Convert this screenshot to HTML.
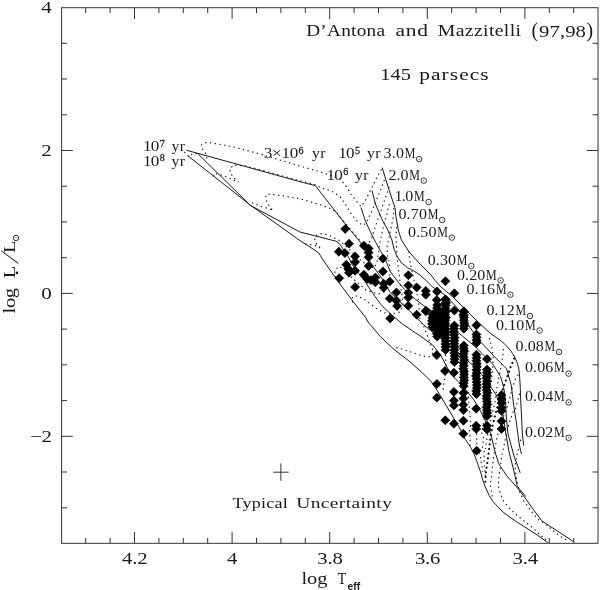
<!DOCTYPE html>
<html><head><meta charset="utf-8"><title>D'Antona and Mazzitelli HR diagram</title>
<style>
html,body{margin:0;padding:0;background:#fff;}
svg{display:block;}
text{font-family:"Liberation Serif",serif;fill:#1a1a1a;}
.s{fill:none;stroke:#1a1a1a;stroke-width:1;stroke-linejoin:round;}
.d{fill:none;stroke:#1a1a1a;stroke-width:1.15;stroke-dasharray:1.4 3.4;}
.b{fill:none;stroke:#000;stroke-width:2.1;stroke-dasharray:0.01 4.7;stroke-linecap:round;}
.ax{fill:none;stroke:#333;stroke-width:1;}
.dm{fill:#000;stroke:#000;stroke-width:0.7;stroke-linejoin:round;}
</style></head><body>
<svg width="600" height="590" viewBox="0 0 600 590">
<rect width="600" height="590" fill="#fff"/>

<rect class="ax" x="61.6" y="7.7" width="536.4" height="535.6"/>
<path class="ax" d="M85.7 543.3v-5.4M85.7 7.7v5.4M110.1 543.3v-5.4M110.1 7.7v5.4M134.5 543.3v-11.2M134.5 7.7v11.2M158.9 543.3v-5.4M158.9 7.7v5.4M183.3 543.3v-5.4M183.3 7.7v5.4M207.7 543.3v-5.4M207.7 7.7v5.4M232.1 543.3v-11.2M232.1 7.7v11.2M256.5 543.3v-5.4M256.5 7.7v5.4M280.9 543.3v-5.4M280.9 7.7v5.4M305.3 543.3v-5.4M305.3 7.7v5.4M329.7 543.3v-11.2M329.7 7.7v11.2M354.1 543.3v-5.4M354.1 7.7v5.4M378.5 543.3v-5.4M378.5 7.7v5.4M402.9 543.3v-5.4M402.9 7.7v5.4M427.3 543.3v-11.2M427.3 7.7v11.2M451.7 543.3v-5.4M451.7 7.7v5.4M476.1 543.3v-5.4M476.1 7.7v5.4M500.5 543.3v-5.4M500.5 7.7v5.4M524.9 543.3v-11.2M524.9 7.7v11.2M549.3 543.3v-5.4M549.3 7.7v5.4M573.7 543.3v-5.4M573.7 7.7v5.4M61.6 43.3h5.4M598.0 43.3h-5.4M61.6 79.0h5.4M598.0 79.0h-5.4M61.6 114.8h5.4M598.0 114.8h-5.4M61.6 150.5h11.2M598.0 150.5h-11.2M61.6 186.2h5.4M598.0 186.2h-5.4M61.6 221.9h5.4M598.0 221.9h-5.4M61.6 257.7h5.4M598.0 257.7h-5.4M61.6 293.4h11.2M598.0 293.4h-11.2M61.6 329.1h5.4M598.0 329.1h-5.4M61.6 364.8h5.4M598.0 364.8h-5.4M61.6 400.6h5.4M598.0 400.6h-5.4M61.6 436.3h11.2M598.0 436.3h-11.2M61.6 472.0h5.4M598.0 472.0h-5.4M61.6 507.8h5.4M598.0 507.8h-5.4"/>
<text transform="translate(122.1,564.2) scale(1.200,1)" font-size="17.3" text-anchor="start" textLength="21.33" lengthAdjust="spacing">4.2</text>
<text transform="translate(232.1,564.2) scale(1.200,1)" font-size="17.3" text-anchor="middle">4</text>
<text transform="translate(317.3,564.2) scale(1.200,1)" font-size="17.3" text-anchor="start" textLength="21.33" lengthAdjust="spacing">3.8</text>
<text transform="translate(414.9,564.2) scale(1.200,1)" font-size="17.3" text-anchor="start" textLength="21.33" lengthAdjust="spacing">3.6</text>
<text transform="translate(512.5,564.2) scale(1.200,1)" font-size="17.3" text-anchor="start" textLength="21.33" lengthAdjust="spacing">3.4</text>
<text transform="translate(51.8,13.2) scale(1.200,1)" font-size="17.5" text-anchor="end">4</text>
<text transform="translate(51.8,156.1) scale(1.200,1)" font-size="17.5" text-anchor="end">2</text>
<text transform="translate(51.8,299.0) scale(1.200,1)" font-size="17.5" text-anchor="end">0</text>
<text transform="translate(30.3,441.9) scale(1.200,1)" font-size="17.5" text-anchor="start" textLength="18.00" lengthAdjust="spacing">−2</text>
<text transform="translate(301.5,584.4) scale(1.200,1)" font-size="17.0" text-anchor="start" textLength="21.67" lengthAdjust="spacing">log</text>
<text transform="translate(337.6,584.4) scale(0.850,1)" font-size="17.0" text-anchor="start">T</text>
<text x="347.5" y="589.6" style="font-family:'Liberation Sans',sans-serif;font-weight:bold;font-size:10.3px">eff</text>
<g transform="translate(14.6,313.5) rotate(-90)"><text transform="translate(0.0,0.0) scale(1.200,1)" font-size="17.0" text-anchor="start" textLength="21.25" lengthAdjust="spacing">log</text><text transform="translate(35.3,0.0) scale(1.200,1)" font-size="17.0" text-anchor="start">L</text><circle cx="40.6" cy="2.3" r="1.3" fill="#1a1a1a"/><text transform="translate(49.4,3.4) skewX(-22)" font-size="25.5">/</text><text transform="translate(60.6,0.0) scale(1.200,1)" font-size="17.0" text-anchor="start">L</text><circle class="ax" cx="75.5" cy="1.4" r="2.7"/><circle cx="75.5" cy="1.4" r="0.6" fill="#1a1a1a"/></g>
<text transform="translate(306.2,36.3) scale(1.170,1)" font-size="16.5" text-anchor="start" textLength="67.35" lengthAdjust="spacing">D’Antona</text>
<text transform="translate(395.5,36.3) scale(1.300,1)" font-size="16.5" text-anchor="start" textLength="25.00" lengthAdjust="spacing">and</text>
<text transform="translate(437.8,36.3) scale(1.200,1)" font-size="16.5" text-anchor="start" textLength="69.33" lengthAdjust="spacing">Mazzitelli</text>
<text transform="translate(531.6,36.9) scale(0.950,1)" font-size="21.0" text-anchor="start">(</text>
<text transform="translate(539.0,36.5) scale(1.200,1)" font-size="17.3" text-anchor="start" textLength="39.17" lengthAdjust="spacing">97,98</text>
<text transform="translate(586.6,36.9) scale(0.950,1)" font-size="21.0" text-anchor="start">)</text>
<text transform="translate(380.3,79.7) scale(1.180,1)" font-size="17.3" text-anchor="start" textLength="25.93" lengthAdjust="spacing">145</text>
<text transform="translate(419.2,79.5) scale(1.300,1)" font-size="16.5" text-anchor="start" textLength="53.46" lengthAdjust="spacing">parsecs</text>
<text transform="translate(232.6,507.6) scale(1.170,1)" font-size="15.5" text-anchor="start" textLength="47.26" lengthAdjust="spacing">Typical</text>
<text transform="translate(296.3,507.6) scale(1.260,1)" font-size="15.5" text-anchor="start" textLength="75.87" lengthAdjust="spacing">Uncertainty</text>
<path class="ax" d="M273.2 472.2h15.4M280.9 463.4v17.4"/>
<text transform="translate(142.9,151.0) scale(1.200,1)" font-size="14.3" text-anchor="start" textLength="13.75" lengthAdjust="spacing">10</text><text transform="translate(159.7,146.8) scale(1.050,1)" font-size="9.6" text-anchor="start" stroke="#1a1a1a" stroke-width="0.25">7</text><text transform="translate(171.4,151.0) scale(1.100,1)" font-size="14.3" text-anchor="start" textLength="12.27" lengthAdjust="spacing">yr</text>
<text transform="translate(142.9,165.5) scale(1.200,1)" font-size="14.3" text-anchor="start" textLength="13.75" lengthAdjust="spacing">10</text><text transform="translate(159.7,161.3) scale(1.050,1)" font-size="9.6" text-anchor="start" stroke="#1a1a1a" stroke-width="0.25">8</text><text transform="translate(171.4,165.5) scale(1.100,1)" font-size="14.3" text-anchor="start" textLength="12.27" lengthAdjust="spacing">yr</text>
<text transform="translate(263.8,158.2) scale(1.200,1)" font-size="14.3" text-anchor="start" textLength="28.75" lengthAdjust="spacing">3×10</text><text transform="translate(298.6,154.0) scale(1.050,1)" font-size="9.6" text-anchor="start" stroke="#1a1a1a" stroke-width="0.25">6</text><text transform="translate(312.1,158.2) scale(1.100,1)" font-size="14.3" text-anchor="start" textLength="12.27" lengthAdjust="spacing">yr</text>
<text transform="translate(338.2,158.2) scale(1.200,1)" font-size="14.3" text-anchor="start" textLength="13.75" lengthAdjust="spacing">10</text><text transform="translate(355.0,154.0) scale(1.050,1)" font-size="9.6" text-anchor="start" stroke="#1a1a1a" stroke-width="0.25">5</text><text transform="translate(366.9,158.2) scale(1.100,1)" font-size="14.3" text-anchor="start" textLength="12.27" lengthAdjust="spacing">yr</text>
<text transform="translate(326.4,179.6) scale(1.200,1)" font-size="14.3" text-anchor="start" textLength="13.75" lengthAdjust="spacing">10</text><text transform="translate(343.2,175.4) scale(1.050,1)" font-size="9.6" text-anchor="start" stroke="#1a1a1a" stroke-width="0.25">6</text><text transform="translate(355.1,179.6) scale(1.100,1)" font-size="14.3" text-anchor="start" textLength="12.27" lengthAdjust="spacing">yr</text>
<text transform="translate(383.6,157.8) scale(1.120,1)" font-size="14.3" text-anchor="start" textLength="18.12" lengthAdjust="spacing">3.0</text><text transform="translate(404.7,157.8) scale(0.840,1)" font-size="14.3" text-anchor="start">M</text><circle class="ax" cx="419.2" cy="159.1" r="2.75"/><circle cx="419.2" cy="159.1" r="0.6" fill="#1a1a1a"/>
<text transform="translate(388.4,179.7) scale(1.120,1)" font-size="14.3" text-anchor="start" textLength="17.95" lengthAdjust="spacing">2.0</text><text transform="translate(409.3,179.7) scale(0.840,1)" font-size="14.3" text-anchor="start">M</text><circle class="ax" cx="423.8" cy="180.6" r="2.75"/><circle cx="423.8" cy="180.6" r="0.6" fill="#1a1a1a"/>
<text transform="translate(394.4,201.1) scale(1.120,1)" font-size="14.3" text-anchor="start" textLength="16.88" lengthAdjust="spacing">1.0</text><text transform="translate(414.1,201.1) scale(0.840,1)" font-size="14.3" text-anchor="start">M</text><circle class="ax" cx="428.6" cy="202.0" r="2.75"/><circle cx="428.6" cy="202.0" r="0.6" fill="#1a1a1a"/>
<text transform="translate(398.4,219.1) scale(1.120,1)" font-size="14.3" text-anchor="start" textLength="25.45" lengthAdjust="spacing">0.70</text><text transform="translate(427.7,219.1) scale(0.840,1)" font-size="14.3" text-anchor="start">M</text><circle class="ax" cx="442.2" cy="220.0" r="2.75"/><circle cx="442.2" cy="220.0" r="0.6" fill="#1a1a1a"/>
<text transform="translate(408.0,236.9) scale(1.120,1)" font-size="14.3" text-anchor="start" textLength="25.45" lengthAdjust="spacing">0.50</text><text transform="translate(437.3,236.9) scale(0.840,1)" font-size="14.3" text-anchor="start">M</text><circle class="ax" cx="451.8" cy="237.6" r="2.75"/><circle cx="451.8" cy="237.6" r="0.6" fill="#1a1a1a"/>
<text transform="translate(427.8,265.3) scale(1.120,1)" font-size="14.3" text-anchor="start" textLength="25.18" lengthAdjust="spacing">0.30</text><text transform="translate(456.8,265.3) scale(0.840,1)" font-size="14.3" text-anchor="start">M</text><circle class="ax" cx="471.3" cy="266.0" r="2.75"/><circle cx="471.3" cy="266.0" r="0.6" fill="#1a1a1a"/>
<text transform="translate(457.0,279.5) scale(1.120,1)" font-size="14.3" text-anchor="start" textLength="25.27" lengthAdjust="spacing">0.20</text><text transform="translate(486.1,279.5) scale(0.840,1)" font-size="14.3" text-anchor="start">M</text><circle class="ax" cx="500.6" cy="280.4" r="2.75"/><circle cx="500.6" cy="280.4" r="0.6" fill="#1a1a1a"/>
<text transform="translate(466.6,293.8) scale(1.120,1)" font-size="14.3" text-anchor="start" textLength="25.45" lengthAdjust="spacing">0.16</text><text transform="translate(495.9,293.8) scale(0.840,1)" font-size="14.3" text-anchor="start">M</text><circle class="ax" cx="510.4" cy="294.7" r="2.75"/><circle cx="510.4" cy="294.7" r="0.6" fill="#1a1a1a"/>
<text transform="translate(486.4,315.1) scale(1.120,1)" font-size="14.3" text-anchor="start" textLength="25.27" lengthAdjust="spacing">0.12</text><text transform="translate(515.5,315.1) scale(0.840,1)" font-size="14.3" text-anchor="start">M</text><circle class="ax" cx="530.0" cy="316.0" r="2.75"/><circle cx="530.0" cy="316.0" r="0.6" fill="#1a1a1a"/>
<text transform="translate(496.0,329.6) scale(1.120,1)" font-size="14.3" text-anchor="start" textLength="25.27" lengthAdjust="spacing">0.10</text><text transform="translate(525.1,329.6) scale(0.840,1)" font-size="14.3" text-anchor="start">M</text><circle class="ax" cx="539.6" cy="330.5" r="2.75"/><circle cx="539.6" cy="330.5" r="0.6" fill="#1a1a1a"/>
<text transform="translate(515.6,350.8) scale(1.120,1)" font-size="14.3" text-anchor="start" textLength="25.09" lengthAdjust="spacing">0.08</text><text transform="translate(544.5,350.8) scale(0.840,1)" font-size="14.3" text-anchor="start">M</text><circle class="ax" cx="559.0" cy="352.0" r="2.75"/><circle cx="559.0" cy="352.0" r="0.6" fill="#1a1a1a"/>
<text transform="translate(525.0,371.8) scale(1.120,1)" font-size="14.3" text-anchor="start" textLength="25.27" lengthAdjust="spacing">0.06</text><text transform="translate(554.1,371.8) scale(0.840,1)" font-size="14.3" text-anchor="start">M</text><circle class="ax" cx="568.6" cy="373.6" r="2.75"/><circle cx="568.6" cy="373.6" r="0.6" fill="#1a1a1a"/>
<text transform="translate(525.0,400.5) scale(1.120,1)" font-size="14.3" text-anchor="start" textLength="25.27" lengthAdjust="spacing">0.04</text><text transform="translate(554.1,400.5) scale(0.840,1)" font-size="14.3" text-anchor="start">M</text><circle class="ax" cx="568.6" cy="402.4" r="2.75"/><circle cx="568.6" cy="402.4" r="0.6" fill="#1a1a1a"/>
<text transform="translate(525.0,436.6) scale(1.120,1)" font-size="14.3" text-anchor="start" textLength="25.27" lengthAdjust="spacing">0.02</text><text transform="translate(554.1,436.6) scale(0.840,1)" font-size="14.3" text-anchor="start">M</text><circle class="ax" cx="568.6" cy="437.8" r="2.75"/><circle cx="568.6" cy="437.8" r="0.6" fill="#1a1a1a"/>
<polyline class="d" points="381.4,169.3 377.1,177.0 372.9,185.4 369.5,192.2 365.3,200.7 361.0,206.6 356.0,200.7 350.8,194.0 346.6,187.0 340.7,179.5 330.0,175.0 317.0,171.0 300.0,166.0 258.0,153.5 244.0,149.7 234.5,147.2 225.0,145.2 215.3,143.6 210.8,142.9 205.7,142.6 201.6,144.7 202.1,148.7 205.2,152.8 206.7,157.9 210.3,159.9"/>
<polyline class="d" points="184.5,152.2 189.0,157.0 192.0,154.0 200.0,153.0"/>
<polyline class="d" points="384.4,180.0 383.0,184.0 379.7,192.2 376.3,200.3 373.6,207.1 370.2,214.6 366.8,221.4 363.4,225.4 360.7,224.0 355.9,220.0 351.2,213.9 347.1,207.1 343.7,201.7 339.7,196.3 333.6,192.2 326.8,189.5 320.0,187.5 315.3,184.7 300.0,180.6 280.0,175.2 258.0,169.2 245.0,165.8 234.0,165.0 229.5,169.0 231.0,174.0 235.0,179.0 238.5,182.0"/>
<polyline class="d" points="213.5,176.5 214.3,173.4 218.9,174.5 224.0,175.7 228.0,177.5 232.6,179.7 236.7,181.8"/>
<polyline class="d" points="389.2,186.8 386.4,195.0 383.0,204.4 379.7,214.0 377.0,222.0 374.2,230.2 371.5,238.3 368.0,244.0 364.0,245.0 358.5,239.0 342.0,219.0 336.0,212.0 331.5,209.0 321.0,205.0 301.0,199.0 284.0,196.0 270.0,194.0 266.0,195.0 265.5,199.0 268.0,204.0 271.5,209.0 275.0,211.5"/>
<polyline class="d" points="252.0,202.7 260.0,206.0 268.0,208.5 272.0,210.0"/>
<polyline class="d" points="389.2,204.0 387.1,213.6 384.4,223.0 382.4,231.2 380.3,240.7 379.0,248.8 377.0,262.0 374.0,268.0 368.0,266.0 358.0,258.0 348.0,248.0 340.0,241.0 332.0,236.5 326.0,234.5 321.0,233.8 317.0,235.0 314.5,238.5 315.5,242.5 318.0,246.0 321.5,249.5"/>
<polyline class="d" points="305.3,244.0 311.0,244.7 316.0,245.5 320.0,247.0"/>
<polyline class="d" points="393.9,208.0 393.2,217.6 391.2,227.0 389.2,236.6 387.1,246.0 387.1,254.0 389.2,262.4 390.0,272.0 389.0,284.0 385.0,292.0 378.0,294.0 366.0,290.0 359.2,284.0 351.5,277.3 345.0,270.0 338.8,266.3 335.4,269.7 334.6,274.0 337.0,279.0"/>
<polyline class="d" points="396.6,227.0 395.9,238.0 396.6,248.8 397.3,259.7 398.6,270.5 400.0,282.0 402.0,295.0 403.0,305.0 400.0,312.0 392.0,314.0 384.6,312.9 377.8,309.5 371.0,304.4 364.2,299.3 357.5,296.0 353.2,296.0 351.5,299.3 353.0,303.0"/>
<polyline class="d" points="408.8,251.5 409.5,258.3 410.8,265.0 414.0,280.0 418.3,300.0 420.0,320.3 424.0,327.0 427.6,336.4 433.6,352.5 429.3,356.8 422.5,356.0 412.4,352.5 402.2,349.2 393.7,346.6"/>
<polyline class="d" points="445.0,350.0 446.0,365.0 444.6,379.7 443.7,384.7 443.0,390.0"/>
<polyline class="d" points="489.2,338.0 491.9,347.6 493.2,357.0 492.5,370.7 491.0,385.0 488.0,400.0 485.0,415.0 482.5,428.0 481.7,435.0 483.5,437.8 483.0,442.9 482.5,447.5 484.5,452.5 484.0,457.6 484.5,467.3 485.5,477.0"/>
<polyline class="d" points="503.4,349.0 502.7,357.0 500.7,368.0 498.6,378.8 496.6,389.7 495.3,400.5 492.0,415.0 489.0,428.0 487.0,438.8 486.0,443.9 485.5,449.0"/>
<polyline class="d" points="518.3,374.7 515.0,380.0 512.2,388.3 510.2,396.4 507.5,406.0 503.0,418.0 499.0,430.0 497.2,436.8 496.2,441.9 495.2,447.0 493.6,457.1 493.1,461.7 492.6,466.3 492.1,470.9 491.6,475.4 490.2,485.0 491.8,493.3 492.7,500.0"/>
<polyline class="d" points="519.7,393.7 517.6,400.5 515.6,408.6 513.4,411.2 510.0,420.7 508.0,427.5 505.3,439.3 504.3,444.4 503.3,449.5 502.3,454.0 501.3,458.6 500.8,463.2 500.3,467.8 499.3,473.3 498.5,480.0 498.5,486.7 500.2,493.3 503.5,500.8 509.3,508.3 517.7,515.8 526.0,522.5 534.3,529.2 540.2,535.0 546.0,540.0"/>
<polyline class="d" points="520.8,439.7 518.8,447.8 516.8,456.0 515.5,462.0 515.2,468.0 516.0,476.0 517.5,484.0 519.0,490.0 521.0,495.0 524.3,501.7 529.3,508.3 533.5,514.2 539.0,520.0 547.7,525.8 554.3,531.7 561.0,536.7 567.7,540.8"/>
<polyline class="d" points="468.0,392.0 469.0,405.0 470.2,417.5 470.8,424.0 469.5,431.0 470.2,437.8 470.0,446.0"/>
<polyline class="d" points="477.0,424.0 476.3,431.0 476.9,436.8 476.4,441.9 478.0,449.0 480.4,456.1 480.9,461.2 482.0,466.3 482.5,471.9"/>
<polyline class="b" points="514.2,358.5 510.8,366.6 507.5,376.0 504.0,385.6 500.0,398.0 496.0,412.0 492.5,426.0 491.0,434.0 489.5,445.8 487.8,459.3 486.0,471.0 485.3,483.0"/>
<polyline class="s" points="186.4,150.2 258.0,170.0 300.0,181.7 315.3,185.6 342.1,220.0 350.3,230.2 360.4,242.4 365.0,251.0 369.0,260.0 375.0,269.0 381.1,277.2 387.2,287.4 390.3,292.5 395.3,297.5 409.6,310.8 417.7,318.9 423.8,325.0 440.0,338.0 455.0,350.0 468.0,361.0 478.0,370.0 486.8,381.0 496.0,394.7 502.0,410.0 505.4,430.5 508.8,450.8 513.9,471.0 517.3,486.4 525.8,496.6"/>
<polyline class="s" points="187.6,155.6 251.5,206.0 300.0,240.6 310.0,247.0 318.6,252.8 324.4,262.0 338.8,282.4 354.0,302.7 366.0,318.0 368.0,322.0 380.2,336.4 393.7,349.2 409.0,361.0 422.5,372.9 431.0,381.4 437.8,391.5 442.9,400.0 459.0,427.0 465.2,439.3 470.8,447.5 474.3,454.6 476.5,460.5 478.4,465.8 481.0,473.3 482.7,480.0 485.2,486.7 489.3,495.8 493.0,501.5 497.7,506.7 503.0,512.0 509.3,516.7 516.5,521.7 524.3,526.7 536.0,534.2 547.7,542.5"/>
<polyline class="s" points="198.0,153.8 250.5,205.5 300.0,232.0 314.4,235.7 335.9,241.2 339.3,243.5 342.1,247.5 348.2,256.6 352.3,264.7 355.3,268.8 364.2,280.5 375.0,296.5 381.1,304.7 388.2,311.8 395.3,317.9 402.5,324.0 420.8,336.4 432.7,345.0 441.2,356.0 446.3,366.0 451.4,374.6 458.0,381.4 466.0,390.0 474.0,400.0 481.0,412.0 486.0,422.0 490.6,433.2 494.2,448.5 496.0,455.0 498.7,463.7 500.5,466.5 506.8,475.8 517.7,488.3 526.0,499.2 534.3,510.8 541.8,520.8 549.3,525.8 561.0,533.3 573.5,541.7"/>
<polyline class="s" points="361.0,207.5 365.0,220.0 369.6,230.2 375.7,242.4 380.8,251.5 385.9,260.7 389.9,270.9 392.3,274.2 398.4,282.3 404.5,289.4 415.7,299.6 423.8,305.7 430.0,309.7 447.0,323.0 463.2,336.7 474.4,345.9 483.6,355.0 492.9,364.2 500.5,376.4 503.6,387.0 505.5,400.0 506.3,417.0 508.0,434.0 514.0,456.0 520.2,472.9"/>
<polyline class="s" points="372.0,190.5 375.4,204.0 382.3,220.0 387.9,230.2 392.0,240.3 394.1,249.3 397.1,256.4 401.2,262.5 407.3,267.6 413.4,270.7 419.5,274.7 425.6,280.0 432.7,287.0 436.0,289.3 444.7,294.7 458.3,309.0 470.3,328.0 481.5,342.8 494.4,356.6 506.6,368.8 511.2,385.0 513.7,405.3 516.8,425.7 519.3,445.0 521.5,454.0"/>
<polyline class="s" points="382.2,167.6 388.1,187.1 394.9,207.5 395.9,216.3 398.6,231.2 401.4,240.0 408.8,251.5 420.5,264.6 430.7,274.7 435.0,280.3 440.8,286.8 454.0,298.0 470.3,314.3 479.2,323.0 490.7,333.6 500.5,340.5 505.5,344.8 509.5,349.3 512.7,353.6 515.3,358.2 517.3,363.2 518.8,368.8 519.7,377.0 520.3,388.6 520.7,400.0 522.4,434.0 523.7,445.8"/>
<path class="dm" d="M345.2 224.4l4.5 4.5l-4.5 4.5l-4.5 -4.5zM349.0 239.2l4.5 4.5l-4.5 4.5l-4.5 -4.5zM338.8 247.2l4.5 4.5l-4.5 4.5l-4.5 -4.5zM344.9 248.6l4.5 4.5l-4.5 4.5l-4.5 -4.5zM355.1 251.9l4.5 4.5l-4.5 4.5l-4.5 -4.5zM355.1 257.4l4.5 4.5l-4.5 4.5l-4.5 -4.5zM346.3 260.2l4.5 4.5l-4.5 4.5l-4.5 -4.5zM348.3 264.2l4.5 4.5l-4.5 4.5l-4.5 -4.5zM355.1 266.2l4.5 4.5l-4.5 4.5l-4.5 -4.5zM349.0 268.2l4.5 4.5l-4.5 4.5l-4.5 -4.5zM339.2 273.7l4.5 4.5l-4.5 4.5l-4.5 -4.5zM355.1 282.6l4.5 4.5l-4.5 4.5l-4.5 -4.5zM363.9 241.2l4.5 4.5l-4.5 4.5l-4.5 -4.5zM368.6 243.9l4.5 4.5l-4.5 4.5l-4.5 -4.5zM368.6 248.0l4.5 4.5l-4.5 4.5l-4.5 -4.5zM368.6 252.7l4.5 4.5l-4.5 4.5l-4.5 -4.5zM368.6 261.4l4.5 4.5l-4.5 4.5l-4.5 -4.5zM363.9 270.2l4.5 4.5l-4.5 4.5l-4.5 -4.5zM367.3 274.4l4.5 4.5l-4.5 4.5l-4.5 -4.5zM375.4 273.1l4.5 4.5l-4.5 4.5l-4.5 -4.5zM375.4 277.8l4.5 4.5l-4.5 4.5l-4.5 -4.5zM371.0 275.6l4.5 4.5l-4.5 4.5l-4.5 -4.5zM382.9 254.1l4.5 4.5l-4.5 4.5l-4.5 -4.5zM382.9 266.9l4.5 4.5l-4.5 4.5l-4.5 -4.5zM383.6 279.2l4.5 4.5l-4.5 4.5l-4.5 -4.5zM383.6 283.2l4.5 4.5l-4.5 4.5l-4.5 -4.5zM389.7 277.1l4.5 4.5l-4.5 4.5l-4.5 -4.5zM396.4 287.9l4.5 4.5l-4.5 4.5l-4.5 -4.5zM389.7 294.1l4.5 4.5l-4.5 4.5l-4.5 -4.5zM396.4 296.1l4.5 4.5l-4.5 4.5l-4.5 -4.5zM397.1 301.4l4.5 4.5l-4.5 4.5l-4.5 -4.5zM408.3 270.7l4.5 4.5l-4.5 4.5l-4.5 -4.5zM408.3 280.9l4.5 4.5l-4.5 4.5l-4.5 -4.5zM408.3 288.2l4.5 4.5l-4.5 4.5l-4.5 -4.5zM408.3 293.1l4.5 4.5l-4.5 4.5l-4.5 -4.5zM408.3 301.2l4.5 4.5l-4.5 4.5l-4.5 -4.5zM416.7 282.9l4.5 4.5l-4.5 4.5l-4.5 -4.5zM416.7 310.2l4.5 4.5l-4.5 4.5l-4.5 -4.5zM425.8 286.4l4.5 4.5l-4.5 4.5l-4.5 -4.5zM425.8 290.2l4.5 4.5l-4.5 4.5l-4.5 -4.5zM425.8 306.4l4.5 4.5l-4.5 4.5l-4.5 -4.5zM426.0 306.6l4.5 4.5l-4.5 4.5l-4.5 -4.5zM437.0 286.9l4.5 4.5l-4.5 4.5l-4.5 -4.5zM436.8 295.6l4.5 4.5l-4.5 4.5l-4.5 -4.5zM445.4 276.7l4.5 4.5l-4.5 4.5l-4.5 -4.5zM445.4 294.8l4.5 4.5l-4.5 4.5l-4.5 -4.5zM445.4 298.9l4.5 4.5l-4.5 4.5l-4.5 -4.5zM454.4 288.8l4.5 4.5l-4.5 4.5l-4.5 -4.5zM454.4 306.1l4.5 4.5l-4.5 4.5l-4.5 -4.5zM463.8 306.8l4.5 4.5l-4.5 4.5l-4.5 -4.5zM463.8 311.2l4.5 4.5l-4.5 4.5l-4.5 -4.5zM476.4 320.8l4.5 4.5l-4.5 4.5l-4.5 -4.5zM390.2 313.9l4.5 4.5l-4.5 4.5l-4.5 -4.5zM436.8 350.6l4.5 4.5l-4.5 4.5l-4.5 -4.5zM445.0 366.4l4.5 4.5l-4.5 4.5l-4.5 -4.5zM453.9 368.2l4.5 4.5l-4.5 4.5l-4.5 -4.5zM436.9 379.4l4.5 4.5l-4.5 4.5l-4.5 -4.5zM436.9 393.2l4.5 4.5l-4.5 4.5l-4.5 -4.5zM453.9 387.4l4.5 4.5l-4.5 4.5l-4.5 -4.5zM453.9 396.1l4.5 4.5l-4.5 4.5l-4.5 -4.5zM453.9 400.9l4.5 4.5l-4.5 4.5l-4.5 -4.5zM463.4 388.6l4.5 4.5l-4.5 4.5l-4.5 -4.5zM463.4 394.1l4.5 4.5l-4.5 4.5l-4.5 -4.5zM463.4 400.2l4.5 4.5l-4.5 4.5l-4.5 -4.5zM463.4 405.6l4.5 4.5l-4.5 4.5l-4.5 -4.5zM463.4 416.2l4.5 4.5l-4.5 4.5l-4.5 -4.5zM445.3 415.8l4.5 4.5l-4.5 4.5l-4.5 -4.5zM453.9 419.2l4.5 4.5l-4.5 4.5l-4.5 -4.5zM463.3 429.2l4.5 4.5l-4.5 4.5l-4.5 -4.5zM476.2 404.2l4.5 4.5l-4.5 4.5l-4.5 -4.5zM476.2 421.2l4.5 4.5l-4.5 4.5l-4.5 -4.5zM476.2 424.4l4.5 4.5l-4.5 4.5l-4.5 -4.5zM476.6 446.2l4.5 4.5l-4.5 4.5l-4.5 -4.5zM487.0 421.2l4.5 4.5l-4.5 4.5l-4.5 -4.5zM487.0 424.9l4.5 4.5l-4.5 4.5l-4.5 -4.5zM501.5 390.4l4.5 4.5l-4.5 4.5l-4.5 -4.5zM501.5 394.6l4.5 4.5l-4.5 4.5l-4.5 -4.5zM501.5 398.6l4.5 4.5l-4.5 4.5l-4.5 -4.5zM501.5 403.1l4.5 4.5l-4.5 4.5l-4.5 -4.5zM501.5 406.4l4.5 4.5l-4.5 4.5l-4.5 -4.5zM501.5 416.7l4.5 4.5l-4.5 4.5l-4.5 -4.5zM501.5 424.4l4.5 4.5l-4.5 4.5l-4.5 -4.5zM487.0 354.6l4.5 4.5l-4.5 4.5l-4.5 -4.5zM437.2 300.6l4.5 4.5l-4.5 4.5l-4.5 -4.5zM437.0 303.7l4.5 4.5l-4.5 4.5l-4.5 -4.5zM436.8 306.9l4.5 4.5l-4.5 4.5l-4.5 -4.5zM437.4 310.0l4.5 4.5l-4.5 4.5l-4.5 -4.5zM436.7 313.2l4.5 4.5l-4.5 4.5l-4.5 -4.5zM437.2 316.3l4.5 4.5l-4.5 4.5l-4.5 -4.5zM437.1 319.4l4.5 4.5l-4.5 4.5l-4.5 -4.5zM436.7 322.6l4.5 4.5l-4.5 4.5l-4.5 -4.5zM437.2 325.8l4.5 4.5l-4.5 4.5l-4.5 -4.5zM436.7 328.9l4.5 4.5l-4.5 4.5l-4.5 -4.5zM437.2 332.1l4.5 4.5l-4.5 4.5l-4.5 -4.5zM432.5 310.1l4.5 4.5l-4.5 4.5l-4.5 -4.5zM432.4 313.2l4.5 4.5l-4.5 4.5l-4.5 -4.5zM432.0 316.3l4.5 4.5l-4.5 4.5l-4.5 -4.5zM432.0 319.4l4.5 4.5l-4.5 4.5l-4.5 -4.5zM432.5 322.6l4.5 4.5l-4.5 4.5l-4.5 -4.5zM441.0 308.6l4.5 4.5l-4.5 4.5l-4.5 -4.5zM440.9 311.7l4.5 4.5l-4.5 4.5l-4.5 -4.5zM441.4 314.9l4.5 4.5l-4.5 4.5l-4.5 -4.5zM440.6 318.1l4.5 4.5l-4.5 4.5l-4.5 -4.5zM440.7 321.2l4.5 4.5l-4.5 4.5l-4.5 -4.5zM441.1 324.4l4.5 4.5l-4.5 4.5l-4.5 -4.5zM441.0 327.6l4.5 4.5l-4.5 4.5l-4.5 -4.5zM445.5 295.2l4.5 4.5l-4.5 4.5l-4.5 -4.5zM446.0 298.2l4.5 4.5l-4.5 4.5l-4.5 -4.5zM445.6 301.1l4.5 4.5l-4.5 4.5l-4.5 -4.5zM445.4 304.1l4.5 4.5l-4.5 4.5l-4.5 -4.5zM446.0 307.0l4.5 4.5l-4.5 4.5l-4.5 -4.5zM445.0 310.0l4.5 4.5l-4.5 4.5l-4.5 -4.5zM445.9 312.9l4.5 4.5l-4.5 4.5l-4.5 -4.5zM445.3 315.9l4.5 4.5l-4.5 4.5l-4.5 -4.5zM445.1 318.8l4.5 4.5l-4.5 4.5l-4.5 -4.5zM445.1 321.8l4.5 4.5l-4.5 4.5l-4.5 -4.5zM445.3 324.7l4.5 4.5l-4.5 4.5l-4.5 -4.5zM445.8 327.7l4.5 4.5l-4.5 4.5l-4.5 -4.5zM445.1 330.6l4.5 4.5l-4.5 4.5l-4.5 -4.5zM445.6 333.6l4.5 4.5l-4.5 4.5l-4.5 -4.5zM445.7 336.5l4.5 4.5l-4.5 4.5l-4.5 -4.5zM445.4 339.5l4.5 4.5l-4.5 4.5l-4.5 -4.5zM445.6 342.4l4.5 4.5l-4.5 4.5l-4.5 -4.5zM445.5 345.4l4.5 4.5l-4.5 4.5l-4.5 -4.5zM454.4 321.1l4.5 4.5l-4.5 4.5l-4.5 -4.5zM453.9 324.1l4.5 4.5l-4.5 4.5l-4.5 -4.5zM453.9 327.1l4.5 4.5l-4.5 4.5l-4.5 -4.5zM454.1 330.2l4.5 4.5l-4.5 4.5l-4.5 -4.5zM454.6 333.2l4.5 4.5l-4.5 4.5l-4.5 -4.5zM454.3 336.3l4.5 4.5l-4.5 4.5l-4.5 -4.5zM454.2 339.3l4.5 4.5l-4.5 4.5l-4.5 -4.5zM454.5 342.3l4.5 4.5l-4.5 4.5l-4.5 -4.5zM454.3 345.4l4.5 4.5l-4.5 4.5l-4.5 -4.5zM454.2 348.4l4.5 4.5l-4.5 4.5l-4.5 -4.5zM454.7 351.5l4.5 4.5l-4.5 4.5l-4.5 -4.5zM454.6 354.5l4.5 4.5l-4.5 4.5l-4.5 -4.5zM454.4 357.6l4.5 4.5l-4.5 4.5l-4.5 -4.5zM463.8 307.2l4.5 4.5l-4.5 4.5l-4.5 -4.5zM463.5 310.1l4.5 4.5l-4.5 4.5l-4.5 -4.5zM463.9 312.9l4.5 4.5l-4.5 4.5l-4.5 -4.5zM463.8 315.8l4.5 4.5l-4.5 4.5l-4.5 -4.5zM464.2 318.6l4.5 4.5l-4.5 4.5l-4.5 -4.5zM464.1 321.4l4.5 4.5l-4.5 4.5l-4.5 -4.5zM463.8 324.2l4.5 4.5l-4.5 4.5l-4.5 -4.5zM463.8 341.1l4.5 4.5l-4.5 4.5l-4.5 -4.5zM463.6 343.9l4.5 4.5l-4.5 4.5l-4.5 -4.5zM464.3 346.8l4.5 4.5l-4.5 4.5l-4.5 -4.5zM463.4 349.7l4.5 4.5l-4.5 4.5l-4.5 -4.5zM463.7 352.6l4.5 4.5l-4.5 4.5l-4.5 -4.5zM464.1 355.5l4.5 4.5l-4.5 4.5l-4.5 -4.5zM463.4 358.4l4.5 4.5l-4.5 4.5l-4.5 -4.5zM463.8 361.3l4.5 4.5l-4.5 4.5l-4.5 -4.5zM463.3 364.2l4.5 4.5l-4.5 4.5l-4.5 -4.5zM464.0 367.1l4.5 4.5l-4.5 4.5l-4.5 -4.5zM464.1 370.0l4.5 4.5l-4.5 4.5l-4.5 -4.5zM463.9 372.9l4.5 4.5l-4.5 4.5l-4.5 -4.5zM464.2 375.8l4.5 4.5l-4.5 4.5l-4.5 -4.5zM463.6 378.7l4.5 4.5l-4.5 4.5l-4.5 -4.5zM463.8 381.6l4.5 4.5l-4.5 4.5l-4.5 -4.5zM476.4 329.9l4.5 4.5l-4.5 4.5l-4.5 -4.5zM476.6 332.8l4.5 4.5l-4.5 4.5l-4.5 -4.5zM476.5 335.7l4.5 4.5l-4.5 4.5l-4.5 -4.5zM476.4 338.6l4.5 4.5l-4.5 4.5l-4.5 -4.5zM476.4 350.2l4.5 4.5l-4.5 4.5l-4.5 -4.5zM476.5 353.3l4.5 4.5l-4.5 4.5l-4.5 -4.5zM476.4 356.3l4.5 4.5l-4.5 4.5l-4.5 -4.5zM476.8 359.3l4.5 4.5l-4.5 4.5l-4.5 -4.5zM476.9 362.3l4.5 4.5l-4.5 4.5l-4.5 -4.5zM476.4 365.4l4.5 4.5l-4.5 4.5l-4.5 -4.5zM476.6 368.4l4.5 4.5l-4.5 4.5l-4.5 -4.5zM475.9 371.4l4.5 4.5l-4.5 4.5l-4.5 -4.5zM476.6 374.4l4.5 4.5l-4.5 4.5l-4.5 -4.5zM476.6 377.5l4.5 4.5l-4.5 4.5l-4.5 -4.5zM476.9 380.5l4.5 4.5l-4.5 4.5l-4.5 -4.5zM476.8 383.5l4.5 4.5l-4.5 4.5l-4.5 -4.5zM476.2 386.5l4.5 4.5l-4.5 4.5l-4.5 -4.5zM476.4 389.6l4.5 4.5l-4.5 4.5l-4.5 -4.5zM487.0 365.1l4.5 4.5l-4.5 4.5l-4.5 -4.5zM486.9 368.0l4.5 4.5l-4.5 4.5l-4.5 -4.5zM487.2 370.9l4.5 4.5l-4.5 4.5l-4.5 -4.5zM486.5 373.8l4.5 4.5l-4.5 4.5l-4.5 -4.5zM487.0 376.7l4.5 4.5l-4.5 4.5l-4.5 -4.5zM486.6 379.6l4.5 4.5l-4.5 4.5l-4.5 -4.5zM486.6 382.5l4.5 4.5l-4.5 4.5l-4.5 -4.5zM486.5 385.4l4.5 4.5l-4.5 4.5l-4.5 -4.5zM487.3 388.3l4.5 4.5l-4.5 4.5l-4.5 -4.5zM486.6 391.2l4.5 4.5l-4.5 4.5l-4.5 -4.5zM486.7 394.1l4.5 4.5l-4.5 4.5l-4.5 -4.5zM486.9 397.0l4.5 4.5l-4.5 4.5l-4.5 -4.5zM487.4 399.9l4.5 4.5l-4.5 4.5l-4.5 -4.5zM486.5 402.8l4.5 4.5l-4.5 4.5l-4.5 -4.5zM486.9 405.7l4.5 4.5l-4.5 4.5l-4.5 -4.5zM487.1 408.6l4.5 4.5l-4.5 4.5l-4.5 -4.5zM487.0 411.6l4.5 4.5l-4.5 4.5l-4.5 -4.5z"/>
</svg></body></html>
